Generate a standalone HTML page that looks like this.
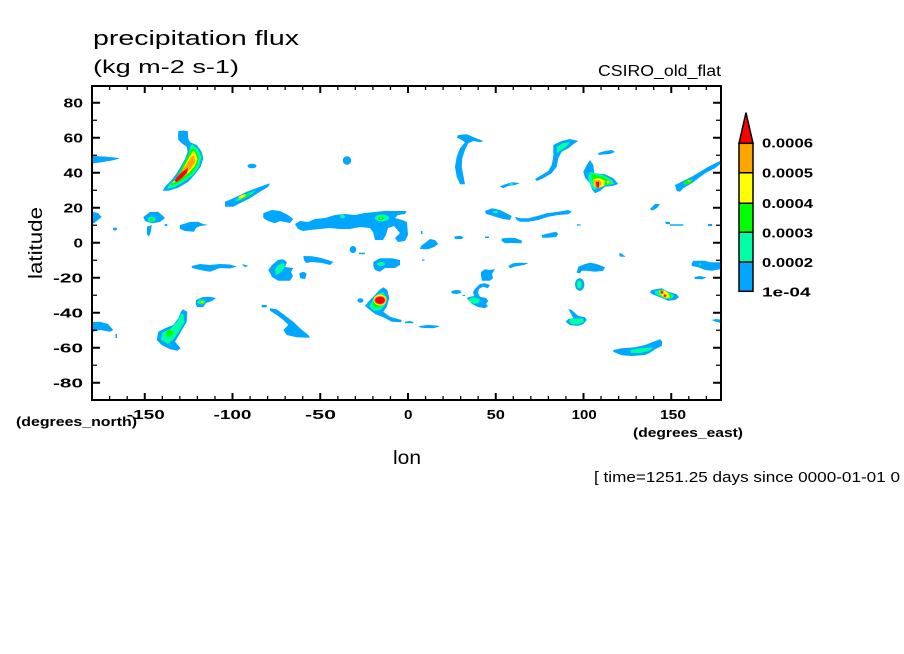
<!DOCTYPE html>
<html><head><meta charset="utf-8"><style>
html,body{margin:0;padding:0;background:#fff;}
svg{display:block;}
text{font-family:"Liberation Sans",sans-serif;fill:#000;}
.b{fill:#00a6ff}.t{fill:#00ffa6}.g{fill:#00ff00}.y{fill:#ffff00}.o{fill:#ffa500}.r{fill:#ff0000}
.tk{font-weight:bold;font-size:13px;}
</style></head><body>
<svg width="904" height="654" viewBox="0 0 904 654" xmlns="http://www.w3.org/2000/svg">
<rect width="904" height="654" fill="#fff"/>
<text x="93" y="45" font-size="20.5" textLength="206" lengthAdjust="spacingAndGlyphs">precipitation flux</text>
<text x="93" y="73" font-size="18.5" textLength="146" lengthAdjust="spacingAndGlyphs">(kg m-2 s-1)</text>
<text x="598" y="76" font-size="15.5" textLength="123" lengthAdjust="spacingAndGlyphs">CSIRO_old_flat</text>

<!-- blue -->
<g class="b">
<polygon points="92,156 104,156.5 115,157.5 120,158.5 112,160.5 100,162.5 92,163.5"/>
<ellipse cx="183" cy="136" rx="5" ry="5.5"/>
<polygon points="178.3,131 187.7,131 188.3,138.3 190,142.3 196.7,145 201.7,151.7 203.3,158.3 200.7,166.7 195,174.3 188.3,181.7 178.3,187.7 168.3,190.7 162.7,190.7 165,186.7 170.7,181 176,174.3 180.7,166.7 185,159 187.7,151.7 186.7,146.7 181.7,143.3 178.3,140"/>
<ellipse cx="252" cy="166" rx="4.5" ry="2.3"/>
<ellipse cx="347" cy="160.5" rx="4.2" ry="4.3"/>
<polygon points="225,201.7 233.3,198.3 246.7,191.7 260,186.7 270,183.3 268.3,186.7 260,191.7 250,198.3 240,203.3 233.3,206.7 225,206.7"/>
<polygon points="92,211.7 98,213 101.7,217 98,220 94,223.3 92,223"/>
<polygon points="143.3,217 150,212 158,211.7 162,215 165,218 160,222 152,223.3 145,221"/>
<polygon points="147,226.7 151.7,225 151,231 149,236.7 147,234"/>
<ellipse cx="115" cy="229" rx="2" ry="1.5"/>
<polygon points="180,225 190,222 198,221.7 203,224 208.3,225 200,226 196,228 194,231.7 185,231 180,229"/>
<ellipse cx="166" cy="225" rx="1.5" ry="1"/>
<polygon points="263.3,213 272,210 280,211 288,215 293.3,219 290,223 280,221 275,223.3 268,221 263.3,218"/>
<polygon points="295,224 300,221 308,222 315,219 325,218 335,215 345,214 355,215 365,213 375,212 385,211 395,211 406.7,211 405,214 398,215 395,218 402,220 407,222 408,235 405,241 398,242 395,238 400,233 394,226 388,228 386,235 383,240 375,240 373,232 370,228 360,227 350,229 340,229 330,228 320,229 310,230 303,231 298,229"/>
<polygon points="191.7,266 200,264 210,265 220,264 230,264.5 236.7,266.5 230,268.5 220,268 210,271.7 200,270 192,268"/>
<polygon points="241.7,264 248.3,265.7 245,267.3"/>
<polygon points="268.3,270 272,265 278,260 283,259.3 287,262 285,267 293.3,268 291,272 293,276 290,280.7 278,280.7 272,277 270,273"/>
<polygon points="299.3,273 304,271.7 306.7,274 305,279.3 300,278"/>
<polygon points="303.3,256 312,256.3 320,257.7 328,260 333.3,262 330,265 322,263 312,262 306,263 304,260"/>
<ellipse cx="353" cy="249.5" rx="3.3" ry="3.5"/>
<rect x="359" y="252.7" width="6" height="1.5"/>
<polygon points="373.3,262 380,258.3 392,258.3 400,260 400,265 395,268 385,268 380,271.7 375,270 373.3,266"/>
<polygon points="92.7,322 100,321.7 108,324 113.3,330 110,331.7 100,330 93,331.7"/>
<rect x="115.5" y="334" width="1.5" height="4"/>
<polygon points="182.7,309.3 187.3,311.7 186.7,321.7 180,333.3 175,341.7 180.7,348.3 177.3,350.7 170,349.3 161.7,345 156.7,340 158.3,331.7 165,328.3 173.3,325 178.3,318.3 181,311.7"/>
<polygon points="196,300 203,297 210,296.7 216,298 212,301 206,303 203,307.3 197,307 195.7,304"/>
<rect x="261.7" y="305" width="5" height="2.3"/>
<polygon points="270,308.3 276.7,309.3 286.7,316.7 293.3,321.7 300,328.3 308.3,335 310,337.7 296.7,337.3 286.7,335 283.3,330 288.3,325 283.3,320 276.7,315 270,310.7"/>
<polygon points="383.3,287.3 387.3,290 389.3,298.3 386.7,306.7 383.3,311.7 390,316.7 401.7,320 401,322.3 391.7,321.7 383.3,317.3 375,314 370,310 365,306 368.3,301.7 375,295 379.3,290"/>
<ellipse cx="360.5" cy="300.5" rx="3" ry="2.2"/>
<polygon points="405,321.7 410,321 413.3,322 413.3,323.3 405,323.3"/>
<polygon points="458.3,135 466.7,134.3 475,137.7 483.3,141 480,142.3 473.3,141 468.3,143.3 465,150 462.3,158.3 461.7,166.7 463.3,175 465,184.3 460,184.3 456.7,176.7 455,166.7 456.7,156.7 460,148.3 465,142.3 460,139 456.7,137.7"/>
<polygon points="500,186.3 506,184 512,182.3 520,183 515,185 508,186 503,188.3"/>
<polygon points="553.3,145 561.7,141 570,139 578.3,141 573.3,144.3 568.3,148.3 561.7,151.7 558.3,158.3 556.7,166.7 551.7,173.3 543.3,178.3 536.7,181 535,179 541.7,175 548.3,171 551.7,165 553.3,156.7 553.3,150"/>
<polygon points="598.3,153 605,151 612,150 615,152 610,154 603,154.5 598.3,155"/>
<polygon points="590,160 593.3,165 594.3,173.3 605,174.3 613.3,178.3 618.3,184 613.3,185.7 605,186.7 600,191 595,193.3 592.3,190 590,183.3 585,177.7 583.3,171.7 586.7,165"/>
<polygon points="675,185 681.7,181.7 691.7,176.7 700,171.7 708.3,166.7 718.3,161.7 720,161 720,164.3 715,168.3 706.7,172.3 698.3,178.3 691.7,183.3 683.3,188.3 680,191.7 676.7,191"/>
<polygon points="650,209 655,204 660,204 657,208 652,210.7"/>
<polygon points="485,211 492,208.3 500,210 506,213 511.7,216 510,220 503,219 496,217 490,215 486,214"/>
<polygon points="515,216.7 520,218.3 528.3,218.3 538.3,215.7 546.7,213.3 558.3,211.7 568.3,210 571.7,211.7 568.3,214.3 558.3,215 548.3,216.7 538.3,220 528.3,221.7 520,221.7 516.7,220"/>
<rect x="577" y="224.3" width="3.5" height="1.3"/>
<polygon points="665,221.7 670,222 670,224.3 666,224"/>
<rect x="670" y="224.3" width="13.3" height="1.4"/>
<rect x="708" y="224" width="4" height="2"/>
<rect x="421" y="231" width="1.5" height="3"/>
<polygon points="454.3,236.5 460,235.7 463.3,237 462,239 455,239"/>
<polygon points="425,243 430,239 435,240 438.3,244 434,247 428,249.3 420,249 421,246"/>
<polygon points="501.7,238.5 510,237.7 515,238 521.7,240.5 521.7,243.3 512,243 505,243.3 501.7,241"/>
<polygon points="541.7,235 550,233 556,231.7 558.3,234 556,237 548,237.7 542,237.7"/>
<rect x="485" y="236.5" width="4" height="1.5"/>
<rect x="422" y="259.5" width="2.5" height="1.2"/>
<polygon points="508.3,266 513,263.3 520,262.7 528.3,263 524,265 515,266.5 510,268.3"/>
<polygon points="481,272 485,269.3 490,270 495,269.3 492,274 493,278 490,280.7 482,280.7 481,276"/>
<polygon points="476.7,287 480,284 485,283.3 490,285 488,288.3 483,286.7 479,289 478,293 480,296.7 486,298 488.3,301 486,304 488,306 485,308.3 478,307 472,304 468.3,300 466.7,298 470,296.7 474,296 473,292 475,289"/>
<polygon points="451,291.5 455,290 460,290.3 461.7,293 456,294 452,293.5"/>
<rect x="462.5" y="295" width="2.5" height="1"/>
<polygon points="419,326 428,325 436,325.5 440,326.5 433,328.3 425,328 420,327.5"/>
<polygon points="578.3,266.7 585,264 590,262.7 596.7,264 605,267.3 603.3,270.7 595,271.7 586.7,270.7 581.7,270.7 580,273.3 576.7,272.7"/>
<ellipse cx="579.7" cy="284.5" rx="4.7" ry="6.2"/>
<polygon points="619,253.5 621,253.3 624,255.5 625.7,256.7 620,256.7"/>
<polygon points="568.3,309 571.7,310 578.3,316 585,317.3 586.7,320 583.3,324 578.3,325.7 570,325.3 565.7,321.7 568.3,319 573.3,318.3 571.7,315"/>
<polygon points="651.7,290 661.7,288.3 668.3,291.7 676.7,294.3 679,297.3 675,300 668.3,300.7 660,297.3 651.7,294 650,292"/>
<polygon points="613.3,350 621.7,348.3 635,347.3 645,345 653.3,341.7 660,339.3 662.3,341.7 661.7,346 655,349.3 650,352.7 645,355 631.7,356 621.7,355.3 616.7,353.3 613.3,351.7"/>
<polygon points="693.3,260.7 705,260.7 710,262.3 720,262.3 720,269.3 711.7,270.7 705,270 698.3,267.3 691.7,266 691.7,263.3"/>
<polygon points="694.3,277 700,276 706.7,277.5 702,279.3 695,279"/>
<polygon points="711.7,320 716,319 720,319.5 720,322.7 715,321.5"/>
</g>
<!-- teal -->
<g class="t">
<polygon points="192,144 198,149 201.5,157 199,167 193,175 185,181 175,187 167,189 169,185 176,179 181,171 185.5,162 189,153 190,147"/>
<polygon points="235,200 242,196 250,192.5 256.7,190 252,194 245,198 238,201"/>
<ellipse cx="151.7" cy="219.3" rx="4" ry="2.5"/>
<ellipse cx="382" cy="218" rx="7" ry="3.5"/>
<ellipse cx="342.5" cy="216.5" rx="2.5" ry="1.7"/>
<polygon points="275,270 278,265 284,263.3 285,267 281,272 276,275"/>
<ellipse cx="381" cy="264" rx="4" ry="2"/>
<polygon points="183,314 184.5,322 178,333 173,340 168,344 161,340 162,333 170,329 177,322 181,314"/>
<ellipse cx="201.5" cy="302" rx="4" ry="2.5"/>
<polygon points="383,292 387,298 385,305 380,310 374,311 369,306 373,300 378,294"/>
<ellipse cx="511" cy="184" rx="2" ry="1"/>
<polygon points="556.7,147 563,143 570,142.3 566,147 560,151 557,153.3"/>
<polygon points="590,172 603,175 612,180 614,184 605,185.5 598,188 594,190 591,186 588,178"/>
<polygon points="683.3,183 688,180.5 693.3,179 690,183 685,185"/>
<ellipse cx="495.5" cy="212" rx="2.5" ry="1.2"/>
<polygon points="468.3,299 473,297.3 480,299 479,303 474,304 470,302"/>
<ellipse cx="579.2" cy="284.5" rx="2.5" ry="4"/>
<polygon points="570,318.5 583,318.3 584,322 578,324.5 571,324 569,321"/>
<polygon points="655,291 662,289.5 668,292.5 674,295.5 672,298.5 666,299 660,296.5 655,293.5"/>
<polygon points="630,350 640,348.3 653.3,347.3 650,350.5 640,353.3 631,353"/>
<ellipse cx="700" cy="264.3" rx="1.2" ry="1"/>
</g>
<!-- green -->
<g class="g">
<polygon points="194,148 199,156 197,166 191,174 183,180 174,185 170,186 174,181 179.5,172 184,163 188,155 191,149"/>
<polygon points="238,199 246,195 253,192 249,195.5 242,199"/>
<ellipse cx="151.7" cy="219.3" rx="2" ry="1.2"/>
<ellipse cx="381" cy="218.3" rx="3" ry="1.6"/>
<ellipse cx="169.5" cy="333.3" rx="3.5" ry="3.5"/>
<ellipse cx="202" cy="302" rx="2.5" ry="1.6"/>
<polygon points="384,294 386,299 383,305 377,308 372,305 375,299 380,295"/>
<polygon points="591,174 604,177 610,181 611,184 604,185 597,187 593,183"/>
<ellipse cx="688" cy="182" rx="4" ry="2" transform="rotate(-25 688 182)"/>
<polygon points="658,291 664,290 670,294 672,297.5 667,298.5 660,295.5"/>
</g>
<!-- yellow -->
<g class="y">
<polygon points="195,152 197.5,159 195,166 189,172.5 181,178.5 174,182.5 172,183 176.5,178 182,171 186,163 190,156 193,151"/>
<ellipse cx="242" cy="196.5" rx="4" ry="1.5" transform="rotate(-25 242 196.5)"/>
<ellipse cx="381" cy="218.3" rx="1" ry="0.8"/>
<ellipse cx="202" cy="302" rx="1.5" ry="1"/>
<ellipse cx="380" cy="300" rx="6.5" ry="5.5"/>
<polygon points="593.3,179 600,178.3 605,181 604,186 598,188.3 594,186"/>
<ellipse cx="608" cy="182" rx="1.5" ry="1.5"/>
<ellipse cx="689" cy="181" rx="1.3" ry="0.8"/>
<polygon points="659,291 665,290.5 669,294 670,297.5 665,298 660,294.5"/>
</g>
<!-- orange -->
<g class="o">
<polygon points="194,155.5 195.5,161 192,167 186,173.5 179,179 175,181 174,180.5 179,175 184,168 188.5,161 192,156"/>
<ellipse cx="380" cy="300.2" rx="5.8" ry="4.5"/>
<polygon points="594,180.5 600,180 601.7,184 599,186.7 595,186"/>
<circle cx="662" cy="292.5" r="2"/>
<circle cx="665" cy="295.7" r="1.8"/>
</g>
<!-- red -->
<g class="r">
<polygon points="188,168 187,173 182,178 177,182 174.5,181 177,177 182,172"/>
<ellipse cx="380" cy="300.3" rx="5" ry="3.7"/>
<polygon points="596,182 599,181.7 599,187.7 596.5,187.5"/>
<circle cx="661.7" cy="292.3" r="1.2"/>
<circle cx="665" cy="295.7" r="1.1"/>
</g>

<!-- frame -->
<rect x="92" y="86" width="629" height="314" fill="none" stroke="#000" stroke-width="2"/>
<!-- major ticks -->
<path stroke="#000" stroke-width="2" fill="none" d="
M144.75,86V93 M232.5,86V93 M320.25,86V93 M408,86V93 M495.75,86V93 M583.5,86V93 M671.25,86V93
M144.75,400V393 M232.5,400V393 M320.25,400V393 M408,400V393 M495.75,400V393 M583.5,400V393 M671.25,400V393
M92,102.75H100 M92,137.75H100 M92,172.75H100 M92,207.75H100 M92,242.75H100 M92,277.75H100 M92,312.75H100 M92,347.75H100 M92,382.75H100
M721,102.75H713 M721,137.75H713 M721,172.75H713 M721,207.75H713 M721,242.75H713 M721,277.75H713 M721,312.75H713 M721,347.75H713 M721,382.75H713"/>
<!-- minor ticks -->
<path stroke="#000" stroke-width="1.3" fill="none" d="
M109.65,86V90 M127.2,86V90 M162.3,86V90 M179.85,86V90 M197.4,86V90 M214.95,86V90 M250.05,86V90 M267.6,86V90 M285.15,86V90 M302.7,86V90 M337.8,86V90 M355.35,86V90 M372.9,86V90 M390.45,86V90 M425.55,86V90 M443.1,86V90 M460.65,86V90 M478.2,86V90 M513.3,86V90 M530.85,86V90 M548.4,86V90 M565.95,86V90 M601.05,86V90 M618.6,86V90 M636.15,86V90 M653.7,86V90 M688.8,86V90 M706.35,86V90
M109.65,400V396 M127.2,400V396 M162.3,400V396 M179.85,400V396 M197.4,400V396 M214.95,400V396 M250.05,400V396 M267.6,400V396 M285.15,400V396 M302.7,400V396 M337.8,400V396 M355.35,400V396 M372.9,400V396 M390.45,400V396 M425.55,400V396 M443.1,400V396 M460.65,400V396 M478.2,400V396 M513.3,400V396 M530.85,400V396 M548.4,400V396 M565.95,400V396 M601.05,400V396 M618.6,400V396 M636.15,400V396 M653.7,400V396 M688.8,400V396 M706.35,400V396
M92,120.25H97 M92,155.25H97 M92,190.25H97 M92,225.25H97 M92,260.25H97 M92,295.25H97 M92,330.25H97 M92,365.25H97
M721,120.25H716 M721,155.25H716 M721,190.25H716 M721,225.25H716 M721,260.25H716 M721,295.25H716 M721,330.25H716 M721,365.25H716"/>

<!-- y tick labels -->
<g class="tk" text-anchor="end">
<text x="83" y="107.5" textLength="19.5" lengthAdjust="spacingAndGlyphs">80</text>
<text x="83" y="142.5" textLength="19.5" lengthAdjust="spacingAndGlyphs">60</text>
<text x="83" y="177.5" textLength="19.5" lengthAdjust="spacingAndGlyphs">40</text>
<text x="83" y="212.5" textLength="19.5" lengthAdjust="spacingAndGlyphs">20</text>
<text x="83" y="247.5" textLength="9.5" lengthAdjust="spacingAndGlyphs">0</text>
<text x="83" y="282.5" textLength="30" lengthAdjust="spacingAndGlyphs">-20</text>
<text x="83" y="317.5" textLength="30" lengthAdjust="spacingAndGlyphs">-40</text>
<text x="83" y="352.5" textLength="30" lengthAdjust="spacingAndGlyphs">-60</text>
<text x="83" y="387.5" textLength="30" lengthAdjust="spacingAndGlyphs">-80</text>
</g>
<!-- x tick labels -->
<g class="tk" text-anchor="middle">
<text x="145.8" y="419" textLength="38" lengthAdjust="spacingAndGlyphs">-150</text>
<text x="232.5" y="419" textLength="38" lengthAdjust="spacingAndGlyphs">-100</text>
<text x="320.5" y="419" textLength="31" lengthAdjust="spacingAndGlyphs">-50</text>
<text x="408.3" y="419" textLength="8.5" lengthAdjust="spacingAndGlyphs">0</text>
<text x="495.8" y="419" textLength="18.3" lengthAdjust="spacingAndGlyphs">50</text>
<text x="584.2" y="419" textLength="25" lengthAdjust="spacingAndGlyphs">100</text>
<text x="673" y="419" textLength="26" lengthAdjust="spacingAndGlyphs">150</text>
</g>
<text x="16" y="426" font-size="12.5" font-weight="bold" textLength="121" lengthAdjust="spacingAndGlyphs">(degrees_north)</text>
<text x="633" y="437" font-size="12.5" font-weight="bold" textLength="110" lengthAdjust="spacingAndGlyphs">(degrees_east)</text>
<text x="393" y="464" font-size="19" textLength="28" lengthAdjust="spacingAndGlyphs">lon</text>
<text transform="translate(42,243) rotate(-90)" text-anchor="middle" font-size="19" textLength="72" lengthAdjust="spacingAndGlyphs">latitude</text>
<text x="594" y="482" font-size="14.5" textLength="306" lengthAdjust="spacingAndGlyphs">[ time=1251.25 days since 0000-01-01 0</text>

<!-- colorbar -->
<polygon points="739,143.3 753,143.3 746,112.7" fill="#ff0000" stroke="#000" stroke-width="1.5" stroke-linejoin="miter"/>
<rect x="739" y="143.3" width="14" height="29.4" fill="#ffa500"/>
<rect x="739" y="172.7" width="14" height="30.6" fill="#ffff00"/>
<rect x="739" y="203.3" width="14" height="29" fill="#00ff00"/>
<rect x="739" y="232.3" width="14" height="29.7" fill="#00ffa6"/>
<rect x="739" y="262" width="14" height="29.3" fill="#00a6ff"/>
<path d="M739,143.3H753 M739,172.7H753 M739,203.3H753 M739,232.3H753 M739,262H753" stroke="#000" stroke-width="1.5"/>
<rect x="739" y="143.3" width="14" height="148" fill="none" stroke="#000" stroke-width="1.5"/>
<g class="tk">
<text x="762" y="147.3" textLength="51" lengthAdjust="spacingAndGlyphs">0.0006</text>
<text x="762" y="177.5" textLength="51" lengthAdjust="spacingAndGlyphs">0.0005</text>
<text x="762" y="208" textLength="51" lengthAdjust="spacingAndGlyphs">0.0004</text>
<text x="762" y="237.5" textLength="51" lengthAdjust="spacingAndGlyphs">0.0003</text>
<text x="762" y="267" textLength="51" lengthAdjust="spacingAndGlyphs">0.0002</text>
<text x="762" y="296.5" textLength="48.5" lengthAdjust="spacingAndGlyphs">1e-04</text>
</g>
</svg>
</body></html>
